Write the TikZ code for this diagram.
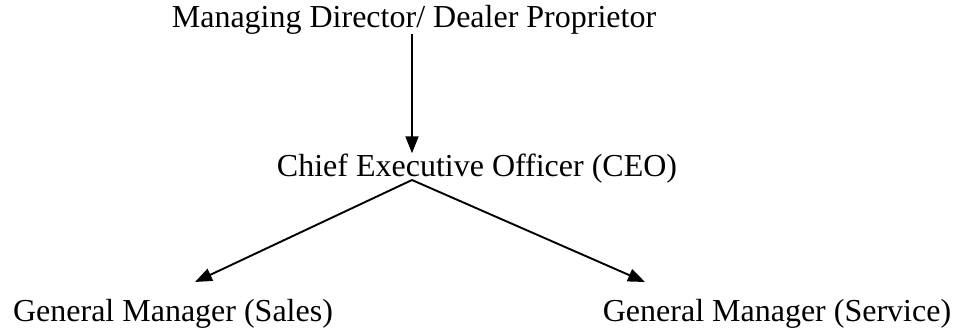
\documentclass[tikz,border=0pt]{standalone}
\usepackage{fontspec}
\setmainfont{Liberation Serif}
\usetikzlibrary{arrows.meta}
\begin{document}
\begin{tikzpicture}[x=1pt,y=-1pt,
  lbl/.style={inner sep=0pt, anchor=base, font=\fontsize{32}{38}\selectfont},
  conn/.style={line width=1.9pt, -{Triangle[length=17pt,width=13pt]}}]
\useasboundingbox (0,0) rectangle (967,333);
\node[lbl] (md) at (414,27) {Managing Director/ Dealer Proprietor};
\node[lbl] (ceo) at (477,176) {Chief Executive Officer (CEO)};
\node[lbl] (sales) at (173,321) {General Manager (Sales)};
\node[lbl] (serv) at (777,321) {General Manager (Service)};
\coordinate (ax) at (412,0);
\coordinate (apex) at (412,180);
\coordinate (tipS) at (195,282);
\coordinate (tipV) at (645,282);
\draw[conn] (md.south -| ax) -- (ceo.north -| ax);
\draw[conn] (apex) -- (tipS);
\draw[conn] (apex) -- (tipV);
\end{tikzpicture}
\end{document}
